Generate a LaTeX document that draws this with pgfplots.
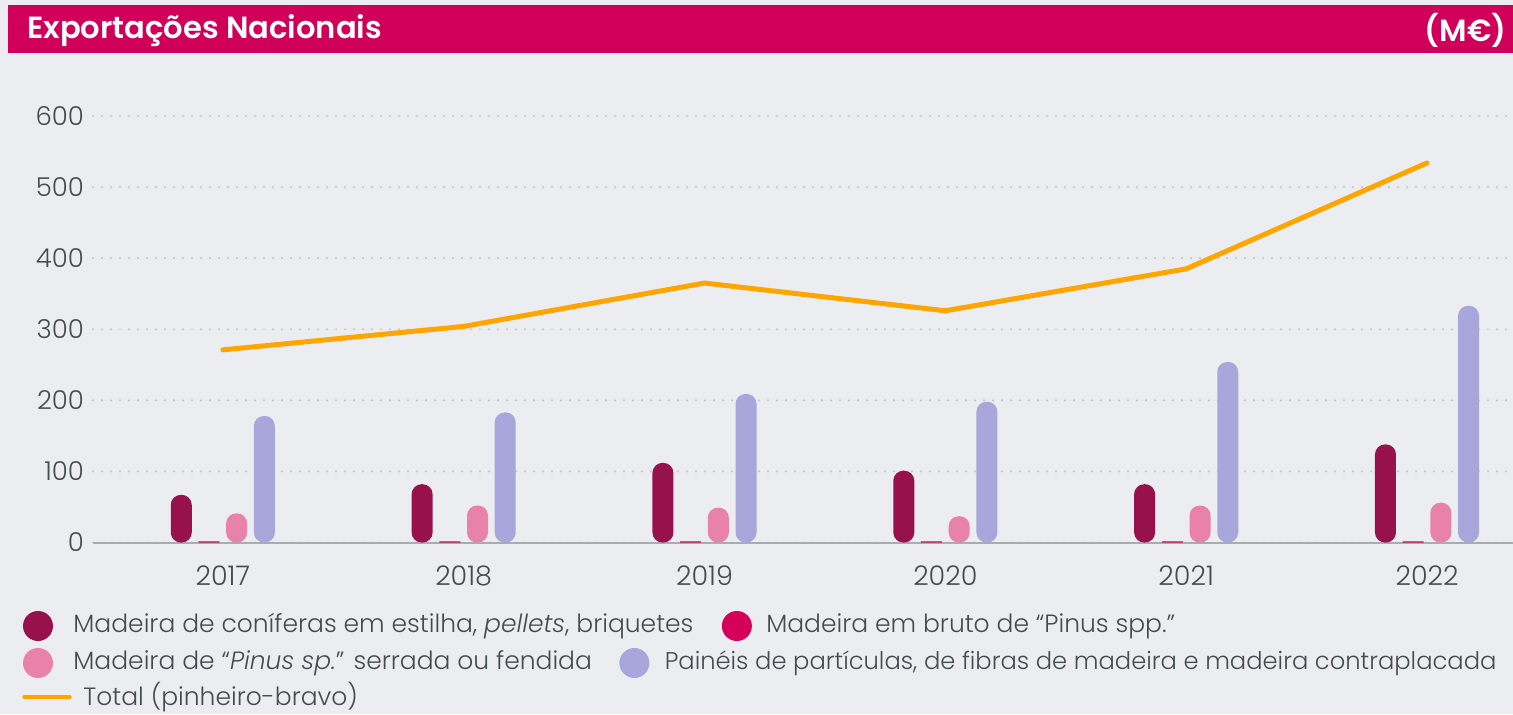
\documentclass[border=0pt]{standalone}
\usepackage{fontspec}
\setmainfont{Poppins}[UprightFont={* Light},ItalicFont={* Light Italic},BoldFont={* SemiBold}]
\usepackage{pgfplots}
\pgfplotsset{compat=1.18}
\definecolor{bgc}{HTML}{ECEDF1}
\definecolor{headc}{HTML}{D0005A}
\definecolor{darkc}{HTML}{97124C}
\definecolor{brightc}{HTML}{D4005A}
\definecolor{pinkc}{HTML}{E882AA}
\definecolor{lavc}{HTML}{A8A6DA}
\definecolor{orangec}{HTML}{FFA500}
\definecolor{txtc}{HTML}{464B50}
\definecolor{gridc}{HTML}{C6C7CC}
\definecolor{axc}{HTML}{ABACAF}
\begin{document}
\begin{tikzpicture}
\useasboundingbox (0,0) rectangle (756.5pt,357pt);
\fill[bgc] (0,0) rectangle (756.5pt,357pt);
\fill[headc] (4pt,330.5pt) rectangle (756.5pt,354.5pt);
\node[anchor=west,text=white,font=\fontsize{15.3}{18}\selectfont\bfseries,inner sep=0pt] at (13.5pt,341.8pt) {Exportações Nacionais};
\node[anchor=east,text=white,font=\fontsize{15.3}{18}\selectfont\bfseries,inner sep=0pt] at (753.5pt,341.8pt) {(M€)};
\begin{axis}[
  at={(46.5pt,85.75pt)}, anchor=south west,
  scale only axis, width=710pt, height=213.25pt,
  xmin=-0.539, xmax=5.357, ymin=0, ymax=600,
  ybar=3.35pt, bar width=10.5pt,
  axis x line*=bottom, axis y line*=left,
  x axis line style={draw=axc,line width=1pt},
  y axis line style={draw=none},
  major tick length=0pt,
  xtick={0,1,2,3,4,5}, xticklabels={2017,2018,2019,2020,2021,2022},
  ytick={0,100,...,600},
  ymajorgrids,
  grid style={draw=gridc,line width=1.2pt,line cap=round,dash pattern=on 0pt off 4.5pt},
  yticklabel style={font=\fontsize{13}{15}\selectfont,text=txtc,xshift=-1pt},
  xticklabel style={font=\fontsize{13.5}{16}\selectfont,text=txtc,yshift=-8pt},
  /pgf/number format/assume math mode=true,
  clip=false,
]
\addplot[fill=darkc,draw=none,rounded corners=5pt] coordinates {(0,67) (1,82) (2,112) (3,101) (4,82) (5,138)};
\addplot[fill=brightc,draw=none] coordinates {(0,1.5) (1,1.5) (2,1.5) (3,1.5) (4,1.5) (5,1.5)};
\addplot[fill=pinkc,draw=none,rounded corners=5pt] coordinates {(0,41) (1,52) (2,49) (3,37) (4,52) (5,56)};
\addplot[fill=lavc,draw=none,rounded corners=5pt] coordinates {(0,178) (1,183) (2,209) (3,198) (4,254) (5,333)};
\addplot[sharp plot,draw=orangec,line width=2.5pt,line cap=round,line join=round,mark=none] coordinates {(0,271) (1,304) (2,365) (3,326) (4,385) (5,534)};
\end{axis}
\begin{scope}[every node/.style={font=\fontsize{12.5}{14}\selectfont,text=txtc,inner sep=0pt,anchor=west}]
\fill[darkc] (19pt,44pt) circle (7.5pt);
\node (t1) at (36.5pt,44pt) {Madeira de coníferas em estilha, \textit{pellets}, briquetes};
\fill[brightc] ([xshift=21.5pt]t1.east) circle (7.5pt);
\node at ([xshift=36pt]t1.east) {Madeira em bruto de “Pinus spp.”};
\fill[pinkc] (19pt,25.5pt) circle (7.5pt);
\node (t2) at (36.5pt,25.5pt) {Madeira de “{\itshape Pinus sp.}” serrada ou fendida};
\fill[lavc] ([xshift=21pt]t2.east) circle (7.5pt);
\node[font=\fontsize{12.1}{14}\selectfont] at ([xshift=36pt]t2.east) {Painéis de partículas, de fibras de madeira e madeira contraplacada};
\draw[orangec,line width=1.6pt,line cap=round] (12pt,8.5pt) -- (35pt,8.5pt);
\node at (41.5pt,8.5pt) {Total (pinheiro-bravo)};
\end{scope}
\end{tikzpicture}
\end{document}
